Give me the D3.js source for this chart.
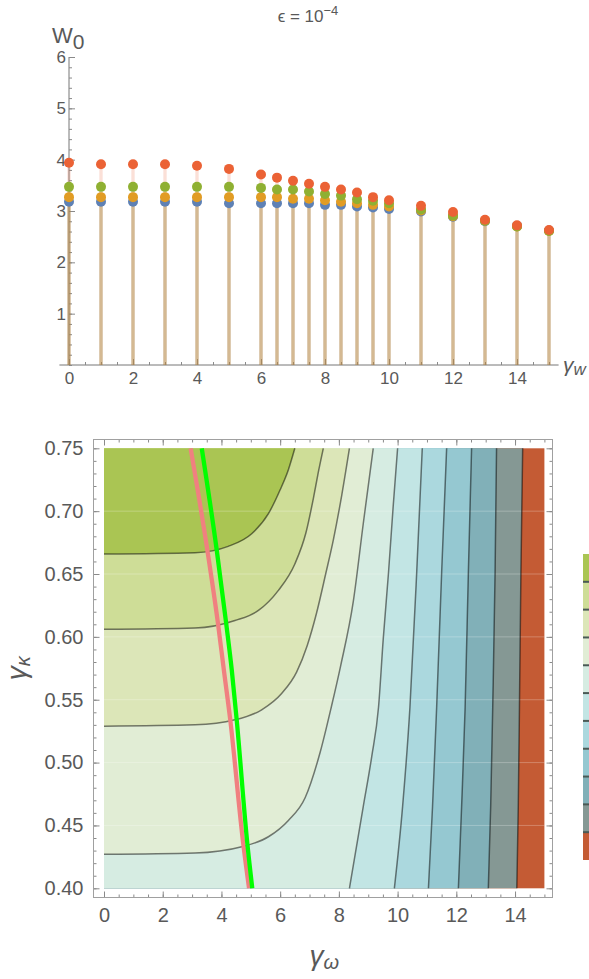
<!DOCTYPE html>
<html>
<head>
<meta charset="utf-8">
<script src="https://cdn.jsdelivr.net/npm/d3@7"></script>
<style>
  body { margin: 0; background: #fff; }
  svg { display: block; font-family: "Liberation Sans", Arial, sans-serif; }
  .axis text { fill: #595959; }
  .axis line { stroke: #8a8a8a; }
  .axis path { display: none; }
</style>
</head>
<body>
<svg id="chart"></svg>
<script>
// ---- top panel: W0 against gamma_w ----
let gammaW = [0, 1, 2, 3, 4, 5, 6, 6.5, 7, 7.5, 8, 8.5, 9, 9.5, 10, 11, 12, 13, 14, 15];
let w0Blue   = [3.18, 3.18, 3.18, 3.18, 3.18, 3.15, 3.15, 3.15, 3.15, 3.15, 3.12, 3.12, 3.09, 3.07, 3.04, 2.99, 2.89, 2.80, 2.71, 2.62];
let w0Orange = [3.27, 3.27, 3.27, 3.27, 3.27, 3.27, 3.27, 3.27, 3.24, 3.24, 3.21, 3.18, 3.15, 3.12, 3.09, 3.01, 2.90, 2.81, 2.70, 2.61];
let w0Green  = [3.47, 3.47, 3.47, 3.47, 3.47, 3.47, 3.45, 3.42, 3.42, 3.38, 3.33, 3.30, 3.23, 3.20, 3.15, 3.03, 2.91, 2.81, 2.70, 2.61];
let w0Red    = [3.94, 3.91, 3.91, 3.91, 3.88, 3.82, 3.71, 3.65, 3.59, 3.53, 3.47, 3.42, 3.36, 3.27, 3.21, 3.10, 2.98, 2.83, 2.72, 2.63];
let topXTicks = [0, 2, 4, 6, 8, 10, 12, 14];
let topYTicks = [1, 2, 3, 4, 5, 6];

// ---- bottom panel: contour lines, [gamma_omega, gamma_k] ----
let contour1  = [[0, 0.666], [3.1, 0.667], [4.23, 0.672], [5.03, 0.682], [5.6, 0.698], [6.0, 0.717], [6.28, 0.733], [6.5, 0.75]];
let contour2  = [[0, 0.606], [3.1, 0.607], [4.46, 0.613], [5.26, 0.621], [5.94, 0.637], [6.5, 0.658], [6.88, 0.683], [7.13, 0.710], [7.3, 0.731], [7.47, 0.75]];
let contour3  = [[0, 0.529], [3.1, 0.530], [4.46, 0.534], [5.37, 0.542], [6.05, 0.555], [6.56, 0.572], [6.92, 0.593], [7.24, 0.619], [7.55, 0.65], [7.81, 0.677], [8.1, 0.713], [8.36, 0.75]];
let contour4  = [[0, 0.427], [3.1, 0.428], [4.69, 0.433], [5.6, 0.441], [6.28, 0.454], [6.85, 0.472], [7.36, 0.508], [7.75, 0.545], [8.06, 0.577], [8.49, 0.628], [8.83, 0.690], [9.17, 0.75]];
let contour5  = [[8.36, 0.40], [8.83, 0.465], [9.12, 0.505], [9.35, 0.544], [9.51, 0.598], [9.69, 0.651], [9.85, 0.704], [10.0, 0.75]];
let contour6  = [[9.89, 0.40], [10.17, 0.465], [10.42, 0.544], [10.65, 0.651], [10.84, 0.75]];
let contour7  = [[11.05, 0.40], [11.19, 0.465], [11.33, 0.544], [11.50, 0.651], [11.67, 0.75]];
let contour8  = [[12.07, 0.40], [12.18, 0.465], [12.30, 0.544], [12.41, 0.651], [12.52, 0.75]];
let contour9  = [[13.09, 0.40], [13.17, 0.465], [13.24, 0.544], [13.32, 0.651], [13.37, 0.75]];
let contour10 = [[14.06, 0.40], [14.11, 0.465], [14.15, 0.544], [14.20, 0.651], [14.26, 0.75]];
let pinkCurve  = [[2.95, 0.75], [3.52, 0.669], [3.88, 0.611], [4.08, 0.574], [4.30, 0.534], [4.74, 0.436], [4.94, 0.40]];
let greenCurve = [[3.33, 0.75], [3.84, 0.669], [4.16, 0.611], [4.35, 0.574], [4.52, 0.534], [4.88, 0.436], [5.05, 0.40]];
let botXTicks = [0, 2, 4, 6, 8, 10, 12, 14];
let botYTicks = [0.40, 0.45, 0.50, 0.55, 0.60, 0.65, 0.70, 0.75];

let config = {
  svg: { width: 589, height: 979 },
  series: ["#5E81B5", "#E19C24", "#8FB032", "#EB6235"],
  bands: ["#AAC553", "#CEDD97", "#DCE6B8", "#E1EDD5", "#D6ECE2", "#C2E5E4",
          "#ABD8DE", "#95C8D1", "#81B0B8", "#859894", "#C45B34"],
  legend: { x: 583, y: 554, width: 20, height: 306 }
};

let svg = d3.select("svg#chart")
  .attr("width", config.svg.width)
  .attr("height", config.svg.height);

let scale = {};
scale.topX = d3.scaleLinear().domain([0, 15]).range([69, 549]);
scale.topY = d3.scaleLinear().domain([0, 6]).range([365, 57]);
scale.botX = d3.scaleLinear().domain([0, 15]).range([104, 544.4]);
scale.botY = d3.scaleLinear().domain([0.40, 0.75]).range([888.3, 448.3]);

drawTop();
drawBottom();
drawLegend();

function drawTop() {
  let series = [w0Blue, w0Orange, w0Green, w0Red];

  svg.append("text")
    .attr("x", 308).attr("y", 22)
    .attr("text-anchor", "middle")
    .attr("font-size", "17px")
    .attr("fill", "#595959")
    .text("\u03F5 = 10")
    .append("tspan")
    .attr("dy", -7).attr("font-size", "13px")
    .text("\u22124");

  // axes
  let gx = svg.append("g").attr("class", "axis")
    .attr("transform", translate(0, scale.topY(0)));
  gx.append("line")
    .attr("x1", scale.topX(-0.3)).attr("x2", scale.topX(15.3))
    .style("stroke", "#777");
  gx.append("g").call(d3.axisBottom(scale.topX)
    .tickValues(d3.range(0, 15.01, 0.5)).tickSize(-3).tickFormat(""));
  gx.append("g").call(d3.axisBottom(scale.topX)
    .tickValues(topXTicks).tickSize(-6).tickPadding(7))
    .selectAll("text").attr("font-size", "17px");

  let gy = svg.append("g").attr("class", "axis")
    .attr("transform", translate(scale.topX(0), 0));
  gy.append("line")
    .attr("y1", scale.topY(0)).attr("y2", scale.topY(6))
    .style("stroke", "#777");
  gy.append("g").call(d3.axisLeft(scale.topY)
    .tickValues(d3.range(0, 6.01, 0.2)).tickSize(-3).tickFormat(""));
  gy.append("g").call(d3.axisLeft(scale.topY)
    .tickValues(topYTicks).tickSize(-6).tickPadding(3).tickFormat(d3.format("d")))
    .selectAll("text").attr("font-size", "17px");

  // stems (filling to the axis)
  series.forEach(function(values, i) {
    svg.append("g").selectAll("line")
      .data(values)
      .enter()
      .append("line")
      .attr("x1", (d, j) => scale.topX(gammaW[j]))
      .attr("x2", (d, j) => scale.topX(gammaW[j]))
      .attr("y1", scale.topY(0))
      .attr("y2", d => scale.topY(d))
      .style("stroke", config.series[i])
      .style("stroke-opacity", 0.2)
      .style("stroke-width", 3.3);
  });

  series.forEach(function(values, i) {
    svg.append("g").selectAll("circle")
      .data(values)
      .enter()
      .append("circle")
      .attr("cx", (d, j) => scale.topX(gammaW[j]))
      .attr("cy", d => scale.topY(d))
      .attr("r", 5)
      .style("fill", config.series[i]);
  });

  let wl = svg.append("text")
    .attr("x", 52).attr("y", 43)
    .attr("font-size", "22px")
    .attr("fill", "#595959");
  wl.append("tspan").text("W");
  wl.append("tspan").attr("dy", 6).attr("font-size", "21px").text("0");

  let gl = svg.append("text")
    .attr("x", 563).attr("y", 372)
    .attr("font-size", "21px")
    .attr("font-style", "italic")
    .attr("fill", "#595959");
  gl.append("tspan").text("\u03B3");
  gl.append("tspan").attr("dy", 3).attr("font-size", "17px").text("w");
}

function drawBottom() {
  let x = scale.botX, y = scale.botY;
  let plot = svg.append("g").attr("id", "contour");

  let line = d3.line()
    .x(d => x(d[0]))
    .y(d => y(d[1]))
    .curve(d3.curveMonotoneX);

  let contours = [contour1, contour2, contour3, contour4, contour5,
                  contour6, contour7, contour8, contour9, contour10];

  // background = highest band
  plot.append("rect")
    .attr("x", x(0)).attr("y", y(0.75))
    .attr("width", x(15) - x(0)).attr("height", y(0.40) - y(0.75))
    .style("fill", config.bands[10]);

  // paint each band as the area left / above its contour
  for (let i = contours.length - 1; i >= 0; i--) {
    let pts = contours[i];
    let d = line(pts) + "L" + x(0) + "," + y(0.75);
    if (pts[0][1] <= 0.40) d += "L" + x(0) + "," + y(0.40);
    plot.append("path")
      .attr("d", d + "Z")
      .style("fill", config.bands[i]);
  }

  // faint mesh lines of the rendering
  plot.append("g").selectAll("line")
    .data(botYTicks.slice(1, -1))
    .enter()
    .append("line")
    .attr("x1", x(0)).attr("x2", x(15))
    .attr("y1", d => y(d)).attr("y2", d => y(d))
    .style("stroke", "#fff")
    .style("stroke-opacity", 0.25);

  plot.append("g").selectAll("path")
    .data(contours)
    .enter()
    .append("path")
    .attr("d", line)
    .style("fill", "none")
    .style("stroke", "#000")
    .style("stroke-opacity", 0.5)
    .style("stroke-width", 1.5);

  plot.append("path")
    .attr("d", line(pinkCurve))
    .style("fill", "none")
    .style("stroke", "#F08080")
    .style("stroke-width", 4.3);

  plot.append("path")
    .attr("d", line(greenCurve))
    .style("fill", "none")
    .style("stroke", "#00FF00")
    .style("stroke-width", 4.3);

  // frame with inward ticks on all sides
  let fx0 = 93.5, fx1 = 552.5, fy0 = 439.5, fy1 = 897.5;
  let minorX = d3.range(0, 15.01, 0.5);
  let minorY = d3.range(0.40, 0.7501, 0.01);

  let frame = svg.append("g").attr("class", "axis");

  frame.append("g").attr("transform", translate(0, fy1))
    .call(d3.axisBottom(x).tickValues(minorX).tickSize(-3).tickFormat(""));
  frame.append("g").attr("transform", translate(0, fy1))
    .call(d3.axisBottom(x).tickValues(botXTicks).tickSize(-6).tickPadding(10))
    .selectAll("text").attr("font-size", "20px");
  frame.append("g").attr("transform", translate(0, fy0))
    .call(d3.axisTop(x).tickValues(minorX).tickSize(-3).tickFormat(""));
  frame.append("g").attr("transform", translate(0, fy0))
    .call(d3.axisTop(x).tickValues(botXTicks).tickSize(-6).tickFormat(""));

  frame.append("g").attr("transform", translate(fx0, 0))
    .call(d3.axisLeft(y).tickValues(minorY).tickSize(-3).tickFormat(""));
  frame.append("g").attr("transform", translate(fx0, 0))
    .call(d3.axisLeft(y).tickValues(botYTicks).tickSize(-6).tickPadding(10)
      .tickFormat(d3.format(".2f")))
    .selectAll("text").attr("font-size", "20px");
  frame.append("g").attr("transform", translate(fx1, 0))
    .call(d3.axisRight(y).tickValues(minorY).tickSize(-3).tickFormat(""));
  frame.append("g").attr("transform", translate(fx1, 0))
    .call(d3.axisRight(y).tickValues(botYTicks).tickSize(-6).tickFormat(""));

  frame.append("rect")
    .attr("x", fx0).attr("y", fy0)
    .attr("width", fx1 - fx0).attr("height", fy1 - fy0)
    .style("fill", "none")
    .style("stroke", "#a0a0a0");

  let xl = svg.append("text")
    .attr("x", (x(0) + x(15)) / 2).attr("y", 965)
    .attr("text-anchor", "middle")
    .attr("font-size", "28px")
    .attr("font-style", "italic")
    .attr("fill", "#595959");
  xl.append("tspan").text("\u03B3");
  xl.append("tspan").attr("dy", 4).attr("font-size", "20px").text("\u03C9");

  let yl = svg.append("text")
    .attr("transform", translate(26, (y(0.40) + y(0.75)) / 2) + " rotate(-90)")
    .attr("text-anchor", "middle")
    .attr("font-size", "28px")
    .attr("font-style", "italic")
    .attr("fill", "#595959");
  yl.append("tspan").text("\u03B3");
  yl.append("tspan").attr("dy", 4).attr("font-size", "20px").text("\u03BA");
}

function drawLegend() {
  let n = config.bands.length;
  let band = d3.scaleBand()
    .domain(d3.range(n))
    .range([config.legend.y, config.legend.y + config.legend.height]);

  let legend = svg.append("g").attr("id", "legend");

  legend.selectAll("rect")
    .data(config.bands)
    .enter()
    .append("rect")
    .attr("x", config.legend.x)
    .attr("y", (d, i) => band(i))
    .attr("width", config.legend.width)
    .attr("height", band.bandwidth())
    .style("fill", d => d);

  legend.selectAll("line")
    .data(d3.range(1, n))
    .enter()
    .append("line")
    .attr("x1", config.legend.x).attr("x2", config.legend.x + config.legend.width)
    .attr("y1", d => band(d)).attr("y2", d => band(d))
    .style("stroke", "#4a5a55")
    .style("stroke-width", 2);
}

function translate(x, y) {
  return 'translate(' + x + ',' + y + ')';
}
</script>
</body>
</html>
